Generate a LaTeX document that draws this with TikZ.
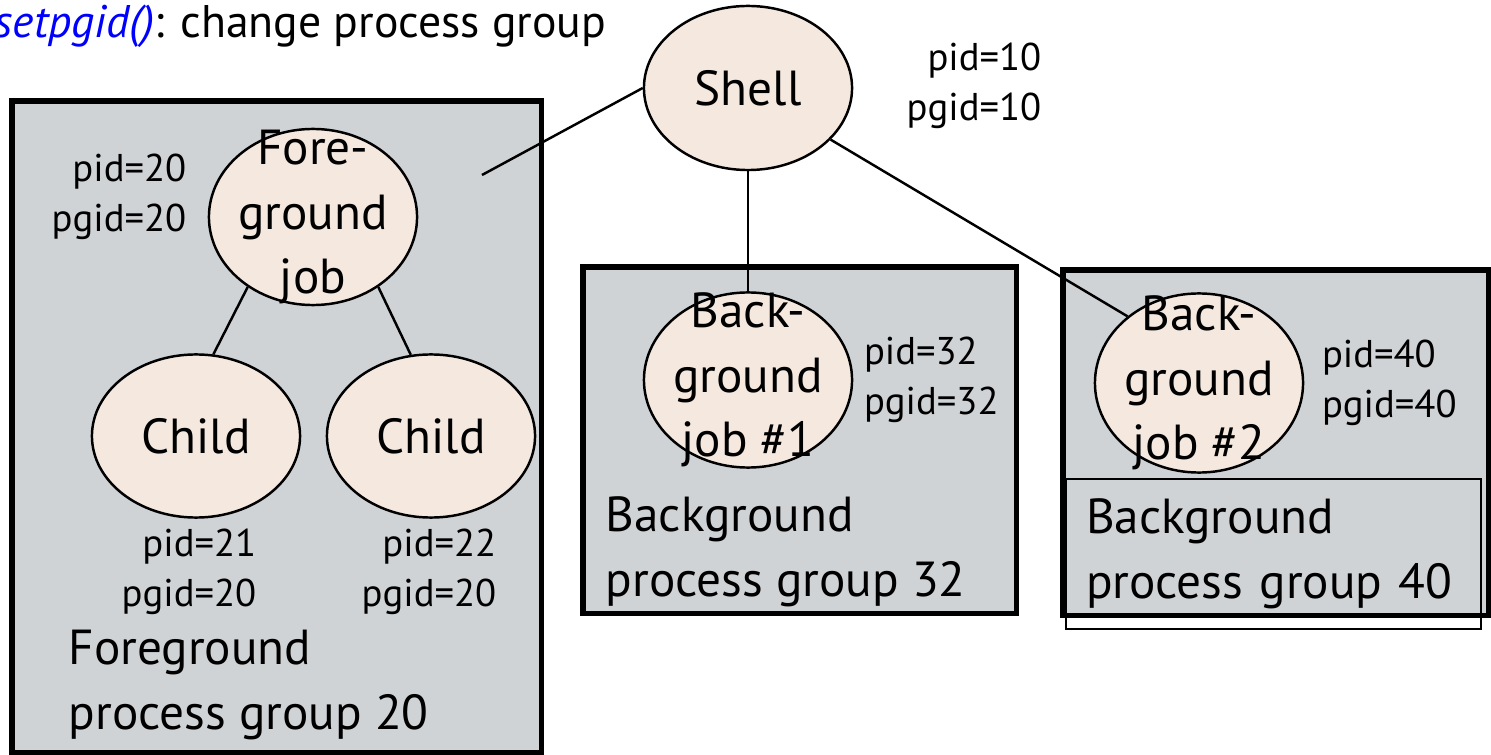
\documentclass[tikz,border=0pt]{standalone}
\usepackage{fontspec}
\setmainfont{PT Sans}
\usetikzlibrary{shapes.geometric, positioning}
\definecolor{ProcFill}{HTML}{F4E8DF}
\definecolor{GroupGray}{HTML}{D0D3D6}

\begin{document}
\begin{tikzpicture}[x=0.01cm, y=-0.01cm,
    proc/.style={draw, ellipse, fill=ProcFill, line width=0.7pt, inner sep=0pt,
                 minimum width=2.08cm, font=\fontsize{14}{17}\selectfont},
    jobtext/.style={align=center, inner sep=0pt, font=\fontsize{14}{18.4}\selectfont},
    group/.style={draw, fill=GroupGray, line width=1.5pt, inner sep=0pt,
                  outer sep=0pt, anchor=north west},
    ids/.style={inner sep=0pt, font=\fontsize{11}{14.2}\selectfont},
    grouptext/.style={align=left, inner sep=0pt, font=\fontsize{14}{18.4}\selectfont},
    link/.style={line width=0.7pt}]
  \useasboundingbox (0,0) rectangle (1491,755);

  \node[anchor=base west, inner sep=0pt, font=\fontsize{13}{15}\selectfont] (title)
    at (-6,38) {\textcolor{blue}{\itshape setpgid()}: change process group};

  % process groups
  \node[group, minimum width=5.29cm, minimum height=6.51cm] (fgbox) at (12,101) {};
  \node[group, minimum width=4.33cm, minimum height=3.46cm] (bg1box) at (583,267) {};
  \node[group, minimum width=4.25cm, minimum height=3.45cm] (bg2box) at (1063,270) {};

  % processes
  \node[proc, minimum height=1.64cm] (shell) at (748,88) {Shell};
  \node[proc, minimum height=1.76cm,
        label={[jobtext]center:Fore-\\ground\\job}] (fg) at (313,217) {};
  \node[proc, minimum height=1.63cm] (child1) at (196,436) {Child};
  \node[proc, minimum height=1.63cm] (child2) at (431,436) {Child};
  \node[proc, minimum height=1.75cm,
        label={[jobtext]center:Back-\\ground\\job \#1}] (bg1) at (748,380) {};
  \node[proc, minimum height=1.79cm,
        label={[jobtext]center:Back-\\ground\\job \#2}] (bg2) at (1199,383) {};

  \coordinate (fgend) at (482,175);
  \draw[link] (shell.west) -- (fgend);
  \draw[link] (shell) -- (bg1);
  \draw[link] (shell.-32) -- (bg2.137);
  \draw[link] (fg.-133) -- (child1.78);
  \draw[link] (fg.-47) -- (child2.104);

  % ids
  \node[ids, align=right, anchor=east] (shellid) at (1042,86) {pid=10\\pgid=10};
  \node[ids, align=right, anchor=east] (fgid) at (187,197) {pid=20\\pgid=20};
  \node[ids, align=right, anchor=east] (c1id) at (257,572) {pid=21\\pgid=20};
  \node[ids, align=right, anchor=east] (c2id) at (497,572) {pid=22\\pgid=20};
  \node[ids, align=left, right=0.1cm of bg1] (bg1id) {pid=32\\pgid=32};
  \node[ids, align=left, right=0.17cm of bg2] (bg2id) {pid=40\\pgid=40};

  % group names
  \node[grouptext, anchor=west] (fglabel) at (68,685) {Foreground\\process group 20};
  \node[grouptext, anchor=west] (bg1label) at (605,552) {Background\\process group 32};
  \node[grouptext, draw, line width=0.6pt, anchor=north west, text width=3.75cm,
        inner xsep=0.2cm, minimum height=1.5cm] (bg2label)
    at (1065,478) {Background\\process group 40};
\end{tikzpicture}
\end{document}
